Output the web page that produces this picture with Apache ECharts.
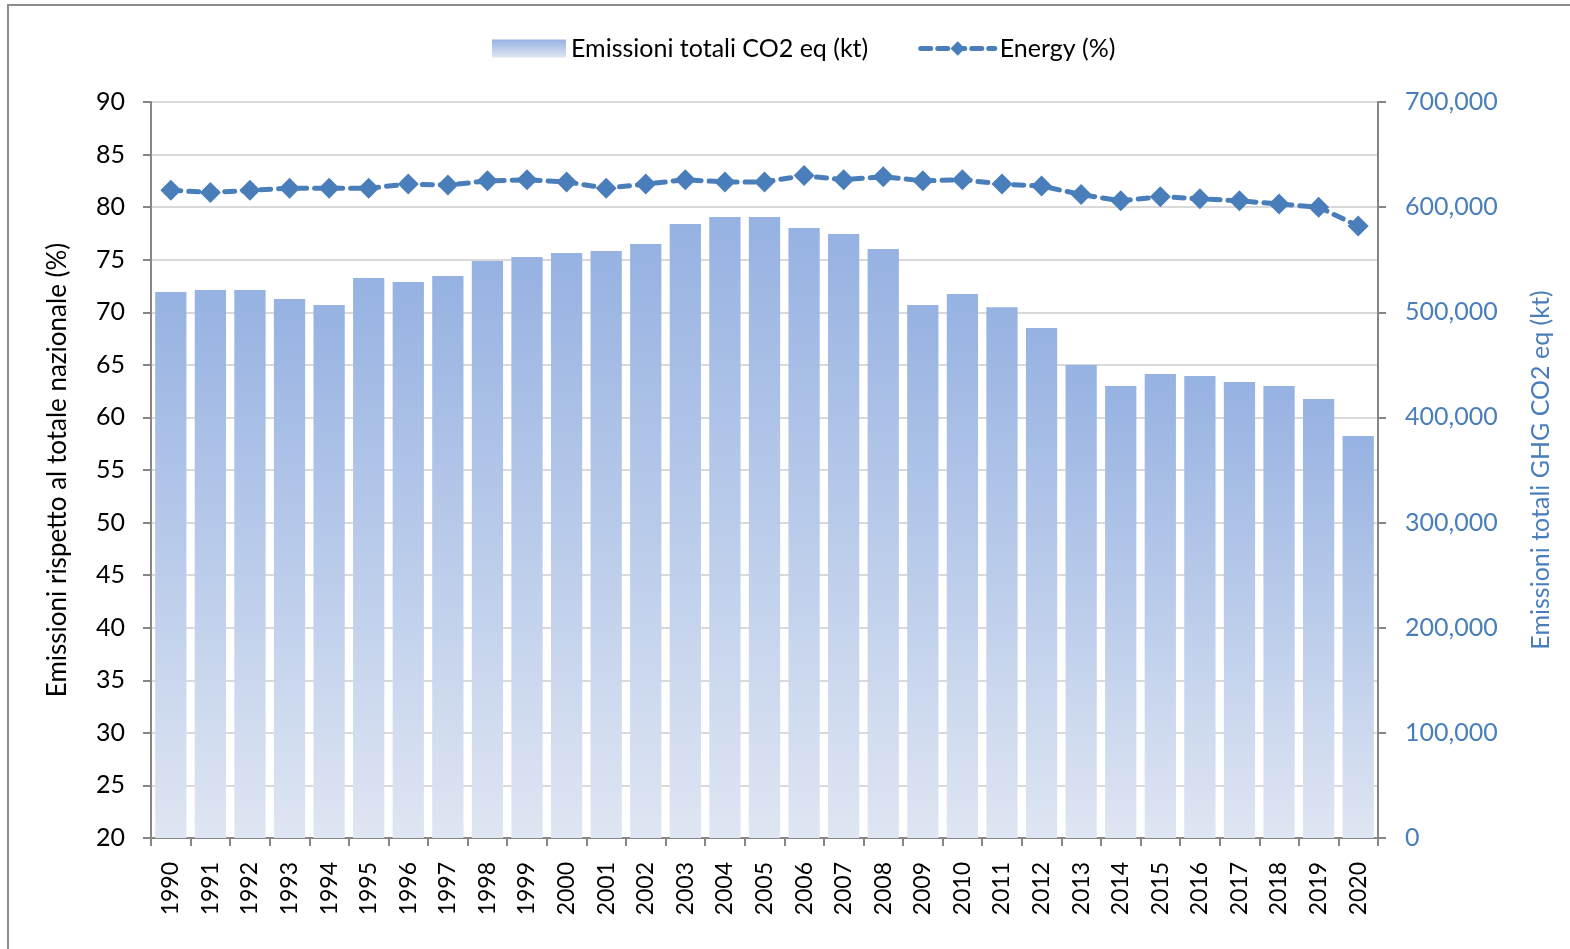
<!DOCTYPE html>
<html>
<head>
<meta charset="utf-8">
<script src="https://cdn.jsdelivr.net/npm/echarts@6/dist/echarts.min.js"></script>
<style>
  html, body { margin: 0; padding: 0; background: #fff; }
  #chart { width: 1570px; height: 949px; }
</style>
</head>
<body>
<div id="chart"></div>
<script>
// anni
const years = [
  '1990', '1991', '1992', '1993', '1994', '1995', '1996', '1997', '1998', '1999',
  '2000', '2001', '2002', '2003', '2004', '2005', '2006', '2007', '2008', '2009',
  '2010', '2011', '2012', '2013', '2014', '2015', '2016', '2017', '2018', '2019', '2020',
];

// emissioni totali CO2 eq (kt)
const totalEmissions = [
  519300, 521200, 521200, 512600, 506900, 532600, 528800, 534500, 548800, 552600,
  556400, 558300, 565000, 584000, 590600, 590600, 580200, 574500, 560200, 506900,
  517400, 504700, 485000, 449900, 429900, 441300, 439400, 433700, 429900, 417500, 382300,
];

// quota settore energia (%)
const energyShare = [
  81.6, 81.4, 81.6, 81.8, 81.8, 81.8, 82.2, 82.1, 82.5, 82.6,
  82.4, 81.8, 82.2, 82.6, 82.4, 82.4, 83.0, 82.6, 82.9, 82.5,
  82.6, 82.2, 82.0, 81.2, 80.6, 81.0, 80.8, 80.6, 80.3, 80.0, 78.2,
];

const leftTicks = { min: 20, max: 90, interval: 5 };
const rightTicks = { min: 0, max: 700000, interval: 100000 };

const FONT = 'Lato';
const BLUE = '#4a7ebb';
const AXIS_GREY = '#868686';

const chart = echarts.init(document.getElementById('chart'));

chart.setOption({
  backgroundColor: '#fff',
  animation: false,
  textStyle: { fontFamily: FONT },
  graphic: [
    {
      type: 'rect',
      shape: { x: 8, y: 5, width: 1700, height: 1100 },
      style: { fill: 'none', stroke: '#8c8c8c', lineWidth: 2 },
      silent: true,
    },
  ],
  legend: {
    top: 31,
    left: 487,
    itemGap: 50,
    itemWidth: 74,
    itemHeight: 18,
    textStyle: { fontSize: 25, color: '#000', fontFamily: FONT },
    data: [
      { name: 'Emissioni totali CO2 eq (kt)', icon: 'rect' },
      {
        name: 'Energy (%)',
        lineStyle: { width: 5, type: [10, 7], cap: 'round' },
        itemStyle: { color: BLUE },
      },
    ],
  },
  grid: {
    left: 151,
    right: 192,
    top: 102,
    bottom: 111,
    containLabel: false,
  },
  xAxis: {
    type: 'category',
    data: years,
    boundaryGap: true,
    axisLine: { lineStyle: { color: AXIS_GREY, width: 2 } },
    axisTick: { show: true, length: 8, alignWithLabel: false, lineStyle: { color: AXIS_GREY, width: 2 } },
    axisLabel: {
      rotate: 90,
      interval: 0,
      margin: 24,
      fontSize: 23,
      color: '#000',
      fontFamily: FONT,
    },
  },
  yAxis: [
    {
      type: 'value',
      position: 'left',
      min: leftTicks.min,
      max: leftTicks.max,
      interval: leftTicks.interval,
      name: 'Emissioni rispetto al totale nazionale (%)',
      nameLocation: 'middle',
      nameGap: 80,
      nameRotate: 90,
      nameTextStyle: { fontSize: 26, color: '#000', fontFamily: FONT },
      axisLine: { show: true, lineStyle: { color: AXIS_GREY, width: 2 } },
      axisTick: { show: true, length: 8, lineStyle: { color: AXIS_GREY, width: 2 } },
      axisLabel: { margin: 26, fontSize: 25, color: '#000', fontFamily: FONT },
      splitLine: { show: true, lineStyle: { color: '#d9d9d9', width: 2 } },
    },
    {
      type: 'value',
      position: 'right',
      min: rightTicks.min,
      max: rightTicks.max,
      interval: rightTicks.interval,
      name: 'Emissioni totali GHG CO2 eq (kt)',
      nameLocation: 'middle',
      nameGap: 150,
      nameRotate: 90,
      nameTextStyle: { fontSize: 25, color: BLUE, fontFamily: FONT },
      axisLine: { show: true, lineStyle: { color: AXIS_GREY, width: 2 } },
      axisTick: { show: true, length: 8, lineStyle: { color: AXIS_GREY, width: 2 } },
      axisLabel: {
        margin: 27,
        fontSize: 25,
        color: BLUE,
        fontFamily: FONT,
        formatter: val => val.toLocaleString('en-US'),
      },
      splitLine: { show: false },
    },
  ],
  series: [
    {
      name: 'Emissioni totali CO2 eq (kt)',
      type: 'bar',
      yAxisIndex: 1,
      barCategoryGap: '21%',
      data: totalEmissions,
      itemStyle: {
        color: new echarts.graphic.LinearGradient(0, 0, 0, 1, [
          { offset: 0, color: '#96b2e2' },
          { offset: 1, color: '#dfe6f3' },
        ]),
      },
    },
    {
      name: 'Energy (%)',
      type: 'line',
      yAxisIndex: 0,
      data: energyShare,
      symbol: 'diamond',
      symbolSize: 21,
      z: 5,
      lineStyle: { color: BLUE, width: 5, type: [10, 8], cap: 'round' },
      itemStyle: { color: BLUE },
    },
  ],
});
</script>
</body>
</html>
